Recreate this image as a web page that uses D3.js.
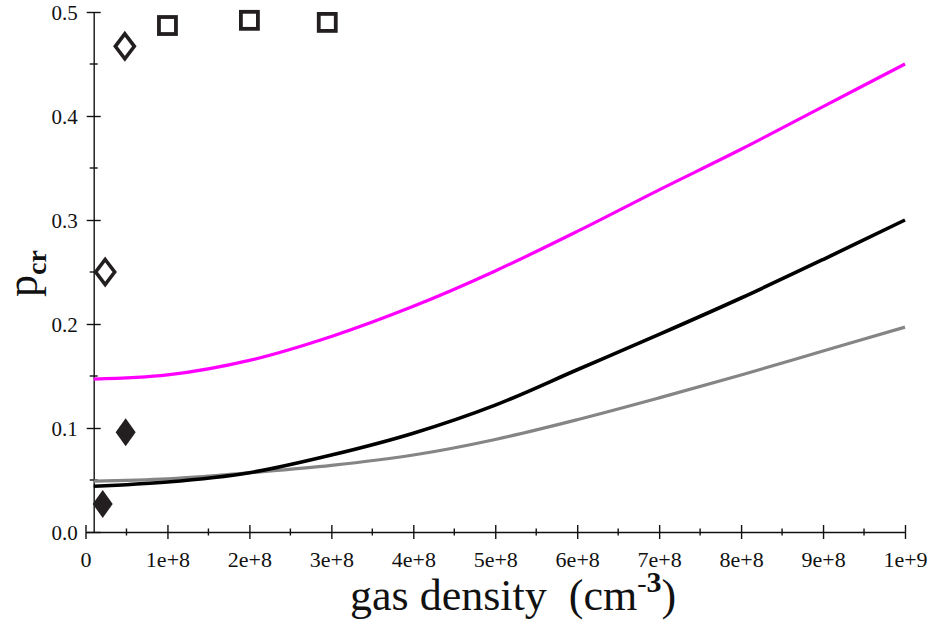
<!DOCTYPE html>
<html>
<head>
<meta charset="utf-8">
<script src="https://cdn.jsdelivr.net/npm/d3@7"></script>
<style>
  body { margin: 0; background: #fff; }
  text { font-family: "Liberation Serif", "Times New Roman", serif; fill: #111; }
</style>
</head>
<body>
<div id="chart"></div>
<script>
// gas density grid (cm^-3) for the model curves
const densityGrid = [1e7, 1e8, 2e8, 3e8, 4e8, 5e8, 6e8, 7e8, 8e8, 9e8, 1e9];
const pcrMagenta = [0.147, 0.151, 0.165, 0.188, 0.217, 0.251, 0.289, 0.329, 0.368, 0.409, 0.450];
const pcrBlack   = [0.044, 0.048, 0.057, 0.074, 0.095, 0.122, 0.156, 0.190, 0.225, 0.262, 0.300];
const pcrGray    = [0.049, 0.051, 0.057, 0.064, 0.074, 0.089, 0.108, 0.129, 0.151, 0.174, 0.197];

// measured points
const squareX = [1.0e8, 2.0e8, 2.95e8];
const squareY = [0.487, 0.492, 0.490];
const openDiamondX = [0.24e8, 0.48e8];
const openDiamondY = [0.250, 0.467];
const filledDiamondX = [0.21e8, 0.49e8];
const filledDiamondY = [0.027, 0.096];

// axis ticks
const xMajorTicks = [0, 1e8, 2e8, 3e8, 4e8, 5e8, 6e8, 7e8, 8e8, 9e8, 1e9];
const xMinorTicks = [0.5e8, 1.5e8, 2.5e8, 3.5e8, 4.5e8, 5.5e8, 6.5e8, 7.5e8, 8.5e8, 9.5e8];
const yMajorTicks = [0, 0.1, 0.2, 0.3, 0.4, 0.5];
const yMinorTicks = [0.05, 0.15, 0.25, 0.35, 0.45];
const yAxisAt = 1e7;

const width = 933, height = 624;
const svg = d3.select('#chart').append('svg')
  .attr('width', width)
  .attr('height', height);

const x = d3.scaleLinear().domain([0, 1e9]).range([85.5, 905]);
const y = d3.scaleLinear().domain([0, 0.5]).range([532, 12]);

// x axis, ticks crossing the line
const xAxis = svg.append('g')
  .attr('transform', `translate(0,${y(0)})`)
  .call(d3.axisBottom(x).tickValues(xMajorTicks).tickSizeOuter(0).tickSizeInner(7)
    .tickFormat(d => d === 0 ? '0' : d3.format('.0e')(d)));
xAxis.select('.domain').attr('stroke', '#111').attr('stroke-width', 1.4);
xAxis.selectAll('.tick line').attr('y1', -7).attr('y2', 7).attr('stroke', '#111').attr('stroke-width', 1.4);
xAxis.selectAll('.tick text').attr('y', 0).attr('dy', 35).style('font-size', '22px')
  .attr('fill', '#111').style('font-family', '"Liberation Serif", serif');
xAxis.attr('font-family', null).attr('font-size', null);

svg.append('g').selectAll('line').data(xMinorTicks).join('line')
  .attr('x1', d => x(d)).attr('x2', d => x(d))
  .attr('y1', y(0) - 3.5).attr('y2', y(0) + 3.5)
  .attr('stroke', '#111').attr('stroke-width', 1.4);

// y axis drawn at x = 1e7
const yAxis = svg.append('g')
  .attr('transform', `translate(${x(yAxisAt)},0)`)
  .call(d3.axisLeft(y).tickValues(yMajorTicks).tickSizeOuter(0).tickSizeInner(7)
    .tickFormat(d3.format('.1f')));
yAxis.select('.domain').attr('stroke', '#111').attr('stroke-width', 1.4);
yAxis.selectAll('.tick line').attr('x1', -7).attr('x2', 7).attr('stroke', '#111').attr('stroke-width', 1.4);
yAxis.selectAll('.tick text').attr('x', -16).attr('dy', '0.35em').style('font-size', '21px')
  .attr('fill', '#111').style('font-family', '"Liberation Serif", serif');
yAxis.attr('font-family', null).attr('font-size', null);

svg.append('g').selectAll('line').data(yMinorTicks).join('line')
  .attr('x1', x(yAxisAt) - 4).attr('x2', x(yAxisAt) + 4)
  .attr('y1', d => y(d)).attr('y2', d => y(d))
  .attr('stroke', '#111').attr('stroke-width', 1.4);

// model curves
const line = d3.line()
  .x(d => x(d[0]))
  .y(d => y(d[1]))
  .curve(d3.curveCatmullRom.alpha(0.5));

const curves = [
  { values: pcrGray, color: '#858585', w: 3.2 },
  { values: pcrBlack, color: '#000000', w: 3.6 },
  { values: pcrMagenta, color: '#ff00ff', w: 3.2 }
];
curves.forEach(c => {
  svg.append('path')
    .datum(densityGrid.map((d, i) => [d, c.values[i]]))
    .attr('d', line)
    .attr('fill', 'none')
    .attr('stroke', c.color)
    .attr('stroke-width', c.w);
});

// markers
function diamondPath(hw, hh) {
  return `M0,${-hh}L${hw},0L0,${hh}L${-hw},0Z`;
}

svg.append('g').selectAll('rect').data(squareX).join('rect')
  .attr('x', d => x(d) - 8.5)
  .attr('y', (d, i) => y(squareY[i]) - 8.5)
  .attr('width', 17).attr('height', 17)
  .attr('fill', 'none').attr('stroke', '#231f20').attr('stroke-width', 3.8);

svg.append('g').selectAll('path').data(openDiamondX).join('path')
  .attr('transform', (d, i) => `translate(${x(d)},${y(openDiamondY[i])})`)
  .attr('d', diamondPath(9.5, 12.5))
  .attr('fill', 'none').attr('stroke', '#231f20').attr('stroke-width', 3.6);

svg.append('g').selectAll('path').data(filledDiamondX).join('path')
  .attr('transform', (d, i) => `translate(${x(d)},${y(filledDiamondY[i])})`)
  .attr('d', diamondPath(10, 14))
  .attr('fill', '#231f20');

// axis titles
const xTitle = svg.append('text')
  .attr('x', 350).attr('y', 610)
  .style('font-size', '44px');
xTitle.append('tspan').text('gas density\u00a0\u00a0(cm');
xTitle.append('tspan').attr('dy', -18).style('font-size', '28px').text('-');
xTitle.append('tspan').style('font-size', '30px').style('font-weight', 'bold').text('3');
xTitle.append('tspan').attr('dy', 18).text(')');

const yTitle = svg.append('text')
  .attr('transform', 'translate(37,297) rotate(-90)')
  .style('font-size', '44px');
yTitle.append('tspan').text('p');
yTitle.append('tspan').attr('dy', 9).style('font-size', '28px').style('font-weight', 'bold').text('cr');
</script>
</body>
</html>
